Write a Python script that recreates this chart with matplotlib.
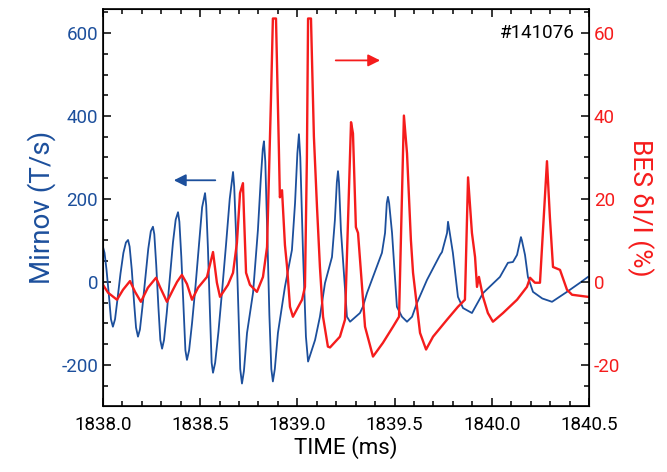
import matplotlib.pyplot as plt
from matplotlib.ticker import MultipleLocator

plt.rcParams['font.family'] = ['Roboto', 'DejaVu Sans']
plt.rcParams['axes.unicode_minus'] = False

# Mirnov coil signal (T/s)
t_mir = [1838.000, 1838.008, 1838.018, 1838.030, 1838.041, 1838.051,
         1838.062, 1838.075, 1838.090, 1838.105, 1838.118, 1838.129,
         1838.137, 1838.148, 1838.160, 1838.170, 1838.180,
         1838.190, 1838.203, 1838.218, 1838.233, 1838.246, 1838.257,
         1838.264, 1838.274, 1838.285, 1838.295, 1838.304,
         1838.314, 1838.328, 1838.344, 1838.360, 1838.374, 1838.386,
         1838.393, 1838.403, 1838.414, 1838.424, 1838.432,
         1838.443, 1838.458, 1838.476, 1838.494, 1838.510, 1838.525,
         1838.531, 1838.540, 1838.550, 1838.559, 1838.566,
         1838.577, 1838.594, 1838.613, 1838.633, 1838.652, 1838.669,
         1838.675, 1838.685, 1838.696, 1838.706, 1838.715,
         1838.725, 1838.741, 1838.772, 1838.797, 1838.812, 1838.822, 1838.828,
         1838.835, 1838.845, 1838.856, 1838.866, 1838.874,
         1838.884, 1838.900, 1838.936, 1838.972, 1838.988, 1839.000, 1839.008,
         1839.015, 1839.029, 1839.044, 1839.055,
         1839.091, 1839.116, 1839.142, 1839.178, 1839.193, 1839.203, 1839.209, 1839.214,
         1839.224, 1839.255, 1839.271, 1839.322, 1839.337, 1839.358, 1839.389,
         1839.435, 1839.451, 1839.460, 1839.466, 1839.472, 1839.487, 1839.512, 1839.538,
         1839.564, 1839.590, 1839.615, 1839.667, 1839.734, 1839.744, 1839.770, 1839.775,
         1839.780, 1839.800, 1839.826, 1839.852, 1839.898, 1839.955, 1840.042, 1840.083,
         1840.109, 1840.130, 1840.146, 1840.150, 1840.155, 1840.171, 1840.186, 1840.212,
         1840.260, 1840.310, 1840.387, 1840.454, 1840.495]
mirnov = [84, 70, 30, -30, -90, -108,
          -90, -40, 20, 70, 95, 101,
          85, 30, -50, -110, -132,
          -115, -60, 10, 80, 122, 133,
          115, 40, -60, -140, -161,
          -140, -75, 10, 95, 150, 168,
          145, 60, -60, -165, -188,
          -165, -100, -10, 90, 180, 214,
          185, 80, -70, -195, -219,
          -195, -120, -20, 90, 200, 265,
          230, 110, -60, -210, -245,
          -215, -123, -26, 125, 250, 320, 339,
          290, 120, -80, -210, -240,
          -210, -123, -12, 77, 190, 310, 356,
          300, 70, -132, -192,
          -140, -84, -3, 60, 149, 240, 267, 240,
          125, -84, -96, -75, -60, -27, 12,
          70, 118, 190, 205, 190, 118, -60, -84,
          -96, -84, -51, 5, 65, 72, 118, 145,
          130, 70, -36, -63, -75, -27, 12, 46,
          48, 65, 100, 108, 100, 65, 12, -24,
          -40, -48, -24, -2, 12]

# BES density fluctuation (%)
t_bes = [1838.000, 1838.026, 1838.072, 1838.103, 1838.139, 1838.165, 1838.195, 1838.231,
         1838.273, 1838.293, 1838.329, 1838.360, 1838.381, 1838.406, 1838.432, 1838.458,
         1838.489, 1838.535, 1838.566, 1838.586, 1838.602, 1838.643, 1838.669, 1838.689,
         1838.705, 1838.720, 1838.725, 1838.736, 1838.756, 1838.792, 1838.823, 1838.844,
         1838.864, 1838.874, 1838.890, 1838.905, 1838.910, 1838.921, 1838.936, 1838.947,
         1838.962, 1838.977, 1839.024, 1839.039, 1839.049, 1839.055, 1839.070, 1839.085,
         1839.101, 1839.116, 1839.132, 1839.157, 1839.168, 1839.219, 1839.245, 1839.276,
         1839.286, 1839.301, 1839.312, 1839.348, 1839.389, 1839.440, 1839.492, 1839.523,
         1839.548, 1839.564, 1839.584, 1839.595, 1839.631, 1839.662, 1839.698, 1839.770,
         1839.826, 1839.862, 1839.878, 1839.898, 1839.914, 1839.924, 1839.934, 1839.955,
         1839.980, 1840.006, 1840.058, 1840.130, 1840.181, 1840.197, 1840.222, 1840.248,
         1840.284, 1840.299, 1840.315, 1840.351, 1840.387, 1840.413, 1840.495]
bes = [-0.7, -2.6, -4.3, -1.9, 0.2, -2.4, -4.8, -1.4,
       1.0, -1.2, -4.8, -1.9, 0.0, 1.7, -0.5, -4.3,
       -1.4, 1.2, 7.2, -0.2, -3.6, -0.7, 2.2, 9.4,
       21.4, 23.8, 16.6, 2.2, -0.7, -2.4, 1.2, 8.4,
       43.7, 63.5, 63.5, 31.7, 20.4, 22.1, 8.9, 3.6,
       -6.0, -8.4, -4.3, -1.2, 30.0, 63.5, 63.5, 35.0,
       18.0, 3.6, -8.4, -15.6, -15.8, -13.2, -9.1, 38.5,
       35.8, 13.2, 11.8, -10.8, -18.0, -14.7, -10.8, -8.4,
       40.1, 31.0, 10.1, 2.2, -12.3, -16.3, -13.2, -9.1,
       -6.0, -4.3, 25.2, 11.8, 6.0, -1.2, 1.2, -3.6,
       -7.5, -9.6, -7.5, -4.3, -1.2, 1.0, -0.2, -0.2,
       29.1, 15.6, 3.6, 2.9, -1.9, -3.1, -3.6]

blue = '#1c4f9c'
red = '#f51c1c'

fig = plt.figure(figsize=(6.67, 4.72), dpi=100)
ax = fig.add_axes([0.1544, 0.140, 0.7286, 0.841])
ax2 = ax.twinx()

ax.plot(t_mir, mirnov, color=blue, lw=1.3)
ax2.plot(t_bes, bes, color=red, lw=1.7)

ax.set_xlim(1838.0, 1840.5)
ax.set_ylim(-299, 658)
ax2.set_ylim(-29.9, 65.8)

ax.xaxis.set_major_locator(MultipleLocator(0.5))
ax.xaxis.set_minor_locator(MultipleLocator(0.1))
ax.yaxis.set_major_locator(MultipleLocator(200))
ax.yaxis.set_minor_locator(MultipleLocator(50))
ax2.yaxis.set_major_locator(MultipleLocator(20))
ax2.yaxis.set_minor_locator(MultipleLocator(5))
ax.xaxis.set_major_formatter(plt.FormatStrFormatter('%.1f'))

ax.tick_params(which='both', direction='in', top=True, right=False, width=1.1)
ax.tick_params(which='major', length=6)
ax.tick_params(which='minor', length=3.5)
ax.tick_params(axis='x', labelsize=13.5, pad=7)
ax.tick_params(axis='y', labelsize=13.5, labelcolor=blue)
ax2.tick_params(which='both', direction='in', width=1.1)
ax2.tick_params(which='major', length=6)
ax2.tick_params(which='minor', length=3.5)
ax2.tick_params(axis='y', labelsize=13.5, labelcolor=red)
for s in ax2.spines.values():
    s.set_linewidth(1.2)

ax.set_xlabel('TIME (ms)', fontsize=16, labelpad=2)
ax.set_ylabel('Mirnov (T/s)', fontsize=20, color=blue, labelpad=4)
ax2.set_ylabel('BES δI/I (%)', fontsize=19, color=red, rotation=270, labelpad=24)

ax.text(0.97, 0.94, '#141076', transform=ax.transAxes, fontsize=13.5, ha='right', va='center')

ax.annotate('', xy=(1839.44, 534), xytext=(1839.183, 534),
            arrowprops=dict(arrowstyle='-|>', color=red, lw=1.3, mutation_scale=18))
ax.annotate('', xy=(1838.35, 245), xytext=(1838.592, 245),
            arrowprops=dict(arrowstyle='-|>', color=blue, lw=1.3, mutation_scale=18))

fig.savefig('out.png', dpi=100)
